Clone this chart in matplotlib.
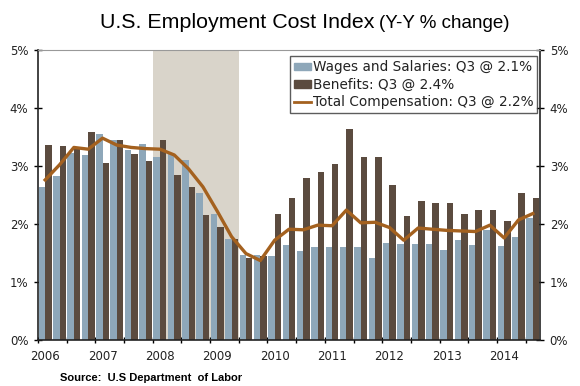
import numpy as np
import matplotlib as mpl
import matplotlib.pyplot as plt
from matplotlib.patches import Patch
from matplotlib.lines import Line2D
mpl.use('agg')

# quarterly values, 2006 Q1 .. 2014 Q3 (Y-Y % change)
years = ['2006', '2007', '2008', '2009', '2010', '2011', '2012', '2013', '2014']
wages = [2.64, 2.83, 3.23, 3.19, 3.56, 3.44, 3.28, 3.38, 3.16, 3.23, 3.10, 2.53,
         2.18, 1.75, 1.47, 1.47, 1.45, 1.63, 1.53, 1.61, 1.61, 1.60, 1.60, 1.41,
         1.67, 1.66, 1.66, 1.66, 1.56, 1.72, 1.63, 1.89, 1.62, 1.78, 2.10]
benefits = [3.37, 3.35, 3.33, 3.59, 3.06, 3.44, 3.20, 3.08, 3.45, 2.85, 2.64, 2.16,
            1.95, 1.75, 1.41, 1.44, 2.18, 2.45, 2.80, 2.89, 3.03, 3.63, 3.16, 3.15,
            2.67, 2.14, 2.39, 2.37, 2.36, 2.18, 2.24, 2.24, 2.06, 2.54, 2.44]
total = [2.76, 3.02, 3.32, 3.29, 3.48, 3.36, 3.32, 3.30, 3.29, 3.19, 2.95, 2.64,
         2.22, 1.78, 1.49, 1.37, 1.72, 1.91, 1.90, 1.98, 1.97, 2.24, 2.02, 2.03,
         1.94, 1.72, 1.93, 1.91, 1.89, 1.88, 1.87, 1.98, 1.76, 2.07, 2.18]
# recession: 2008 Q1 .. 2009 Q2 (quarter index)
rec_start, rec_end = 8, 13

c_wage = '#8ea7b9'
c_ben = '#5b4b3f'
c_tot = '#a4611f'
c_rec = '#d9d4ca'

fig = plt.figure(figsize=(5.8, 3.86), dpi=100)
ax = fig.add_axes([38/580, 46/386, 502/580, 290/386])

x = np.arange(len(wages))
w = 0.45
ax.axvspan(rec_start - 0.5, rec_end + 0.5, color=c_rec, lw=0, zorder=0)
ax.bar(x - w/2, wages, width=w, color=c_wage, zorder=2)
ax.bar(x + w/2, benefits, width=w, color=c_ben, zorder=2)
ax.plot(x, total, color=c_tot, lw=2.4, solid_joinstyle='round', zorder=3)

ax.set_xlim(-0.5, len(wages) - 0.5)
ax.set_ylim(0, 5)
yt = np.arange(0, 6)
ax.set_yticks(yt)
ax.set_yticklabels(['%d%%' % v for v in yt])
ax.tick_params(axis='y', which='both', direction='inout', length=6, width=1,
               labelsize=8.5, labelcolor='#222222', right=True, labelright=True, pad=4)
ax.set_xticks(np.arange(-0.5, len(wages), 2))
ax.set_xticklabels([])
ax.set_xticks(np.arange(0, len(wages), 4), minor=True)
ax.set_xticklabels(years, minor=True)
ax.tick_params(axis='x', which='major', direction='inout', length=5, width=1)
ax.tick_params(axis='x', which='minor', length=0, labelsize=8.5, labelcolor='#222222', pad=7)

for s in ['left', 'right', 'bottom']:
    ax.spines[s].set_color('#222222')
    ax.spines[s].set_linewidth(1.2)
ax.spines['top'].set_color('#999999')
ax.spines['top'].set_linewidth(0.8)

handles = [Patch(color=c_wage, label='Wages and Salaries: Q3 @ 2.1%'),
           Patch(color=c_ben, label='Benefits: Q3 @ 2.4%'),
           Line2D([], [], color=c_tot, lw=2, label='Total Compensation: Q3 @ 2.2%')]
leg = ax.legend(handles=handles, loc='upper right', bbox_to_anchor=(0.995, 0.978),
                fontsize=9.8, frameon=True, fancybox=False, handlelength=1.3,
                handleheight=0.45, handletextpad=0.1, borderpad=0.3,
                labelspacing=0.25, borderaxespad=0)
leg.get_frame().set_edgecolor('#333333')
leg.get_frame().set_linewidth(1.0)
for t in leg.get_texts():
    t.set_color('#222222')

fig.text(375/580, 1 - 27.5/386, 'U.S. Employment Cost Index', ha='right', va='baseline',
         fontsize=15.4, family='Liberation Sans', color='black')
fig.text(379/580, 1 - 27.5/386, '(Y-Y % change)', ha='left', va='baseline',
         fontsize=13.5, family='Liberation Sans', color='black')
fig.text(60/580, 1 - 381/386, 'Source:  U.S Department  of Labor', ha='left',
         va='baseline', fontsize=8, family='Liberation Sans', weight='bold')

fig.savefig('out.png', dpi=100)
